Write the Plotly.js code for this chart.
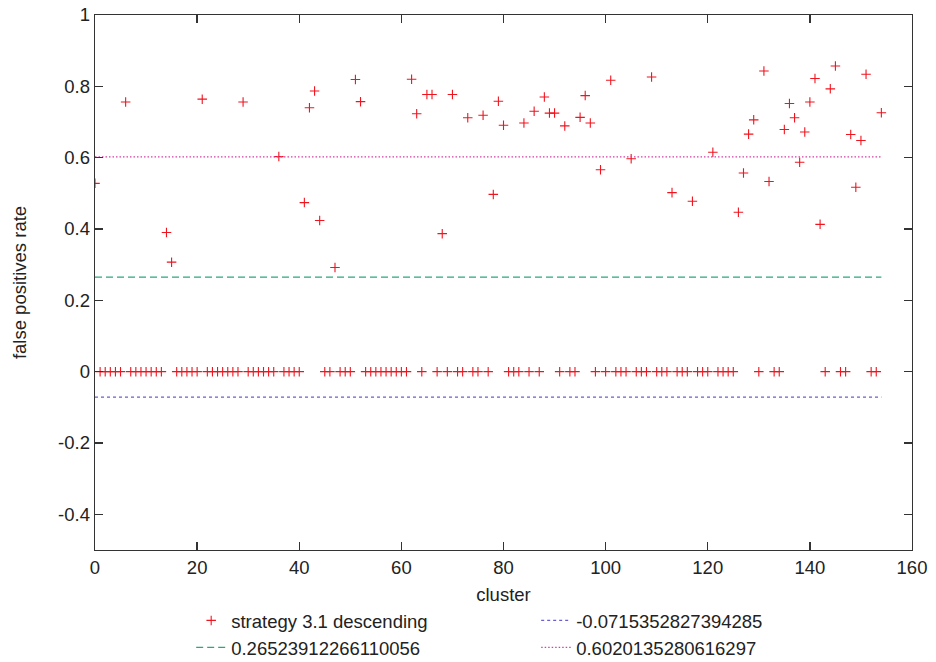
<!DOCTYPE html>
<html>
<head>
<meta charset="utf-8">
<script src="https://cdn.plot.ly/plotly-3.0.1.min.js"></script>
<style>html,body{margin:0;padding:0;background:#fff}#chart{width:936px;height:662px}</style>
</head>
<body>
<div id="chart"></div>
<script>
const clusters = [
  0,1,2,3,4,5,6,7,8,9,10,11,12,13,14,15,16,17,18,19,20,21,22,23,24,25,26,27,28,29,
  30,31,32,33,34,35,36,37,38,39,40,41,42,43,44,45,46,47,48,49,50,51,52,53,54,55,56,57,58,59,
  60,61,62,63,64,65,66,67,68,69,70,71,72,73,74,75,76,77,78,79,80,81,82,83,84,85,86,87,88,89,
  90,91,92,93,94,95,96,97,98,99,100,101,102,103,104,105,106,107,108,109,110,111,112,113,114,
  115,116,117,118,119,120,121,122,123,124,125,126,127,128,129,130,131,132,133,134,135,136,137,
  138,139,140,141,142,143,144,145,146,147,148,149,150,151,152,153,154
];
const fpRate = [
  0.528,0,0,0,0,0,0.756,0,0,0,0,0,0,0,0.390,0.307,0,0,0,0,0,0.764,0,0,0,0,0,0,0,0.756,
  0,0,0,0,0,0,0.603,0,0,0,0,0.474,0.740,0.787,0.424,0,0,0.292,0,0,0,0.819,0.757,0,0,0,0,0,0,0,
  0,0,0.820,0.723,0,0.777,0.777,0,0.387,0,0.777,0,0,0.712,0,0,0.719,0,0.497,0.758,0.691,0,0,0,0.697,0,0.730,0,0.770,0.725,
  0.725,0,0.689,0,0,0.713,0.774,0.697,0,0.566,0,0.817,0,0,0,0.597,0,0,0,0.826,0,0,0,0.502,0,
  0,0,0.478,0,0,0,0.615,0,0,0,0,0.447,0.557,0.666,0.706,0,0.843,0.533,0,0,0.679,0.752,0.712,
  0.587,0.672,0.756,0.822,0.413,0,0.793,0.857,0,0,0.665,0.517,0.648,0.834,0,0,0.726
];
const seriesName = 'strategy 3.1 descending';
const lowLine = -0.0715352827394285;
const meanLine = 0.26523912266110056;
const highLine = 0.6020135280616297;
const lowLabel = '-0.0715352827394285';
const meanLabel = '0.26523912266110056';
const highLabel = '0.6020135280616297';
const xTicks = [0,20,40,60,80,100,120,140,160];
const yTicks = [-0.4,-0.2,0,0.2,0.4,0.6,0.8,1];
const yTickText = ['-0.4','-0.2','0','0.2','0.4','0.6','0.8','1'];

const xEnds = [clusters[0], clusters[clusters.length-1]];
const FONT = 'Liberation Sans, Arial, sans-serif';
const FS = 18.5;
const TXT = '#222';

const traces = [
  {x: clusters, y: fpRate, mode: 'markers', type: 'scatter', name: seriesName,
   marker: {symbol: 'cross-thin', size: 6.8, color: '#ff0000', line: {color: '#f0141e', width: 1.1}}},
  {x: xEnds, y: [lowLine, lowLine], mode: 'lines', type: 'scatter', name: lowLabel,
   line: {color: '#6a5fd0', width: 1.3, dash: '3px,3px'}},
  {x: xEnds, y: [meanLine, meanLine], mode: 'lines', type: 'scatter', name: meanLabel,
   line: {color: '#2aa87a', width: 1.3, dash: '7px,4px'}},
  {x: xEnds, y: [highLine, highLine], mode: 'lines', type: 'scatter', name: highLabel,
   line: {color: '#d93ca8', width: 1.3, dash: '1.5px,2px'}}
];

const axisCommon = {
  showline: true, linecolor: '#333', linewidth: 1.3, mirror: 'allticks',
  ticks: 'inside', ticklen: 8, tickwidth: 1.3, tickcolor: '#333',
  showgrid: false, zeroline: false,
  tickfont: {family: FONT, size: FS, color: TXT}
};

const layout = {
  width: 936, height: 662,
  margin: {l: 95, r: 24, t: 15, b: 112, autoexpand: false},
  paper_bgcolor: '#fff', plot_bgcolor: '#fff',
  font: {family: FONT, size: FS, color: TXT},
  xaxis: Object.assign({}, axisCommon, {
    range: [0, 160], tickvals: xTicks, ticktext: xTicks.map(String),
    title: {text: 'cluster', font: {family: FONT, size: FS, color: TXT}, standoff: 11}
  }),
  yaxis: Object.assign({}, axisCommon, {
    range: [-0.5, 1], tickvals: yTicks, ticktext: yTickText,
    title: {text: 'false positives rate', font: {family: FONT, size: FS, color: TXT}, standoff: 26}
  }),
  showlegend: true,
  legend: {
    orientation: 'h', x: 0.54, xanchor: 'center', y: -0.097, yanchor: 'top',
    entrywidth: 300, entrywidthmode: 'pixels', itemwidth: 30,
    font: {family: FONT, size: FS, color: TXT},
    bgcolor: 'rgba(0,0,0,0)', tracegroupgap: 0
  }
};

Plotly.newPlot('chart', traces, layout, {displayModeBar: false, staticPlot: true});
</script>
</body>
</html>
